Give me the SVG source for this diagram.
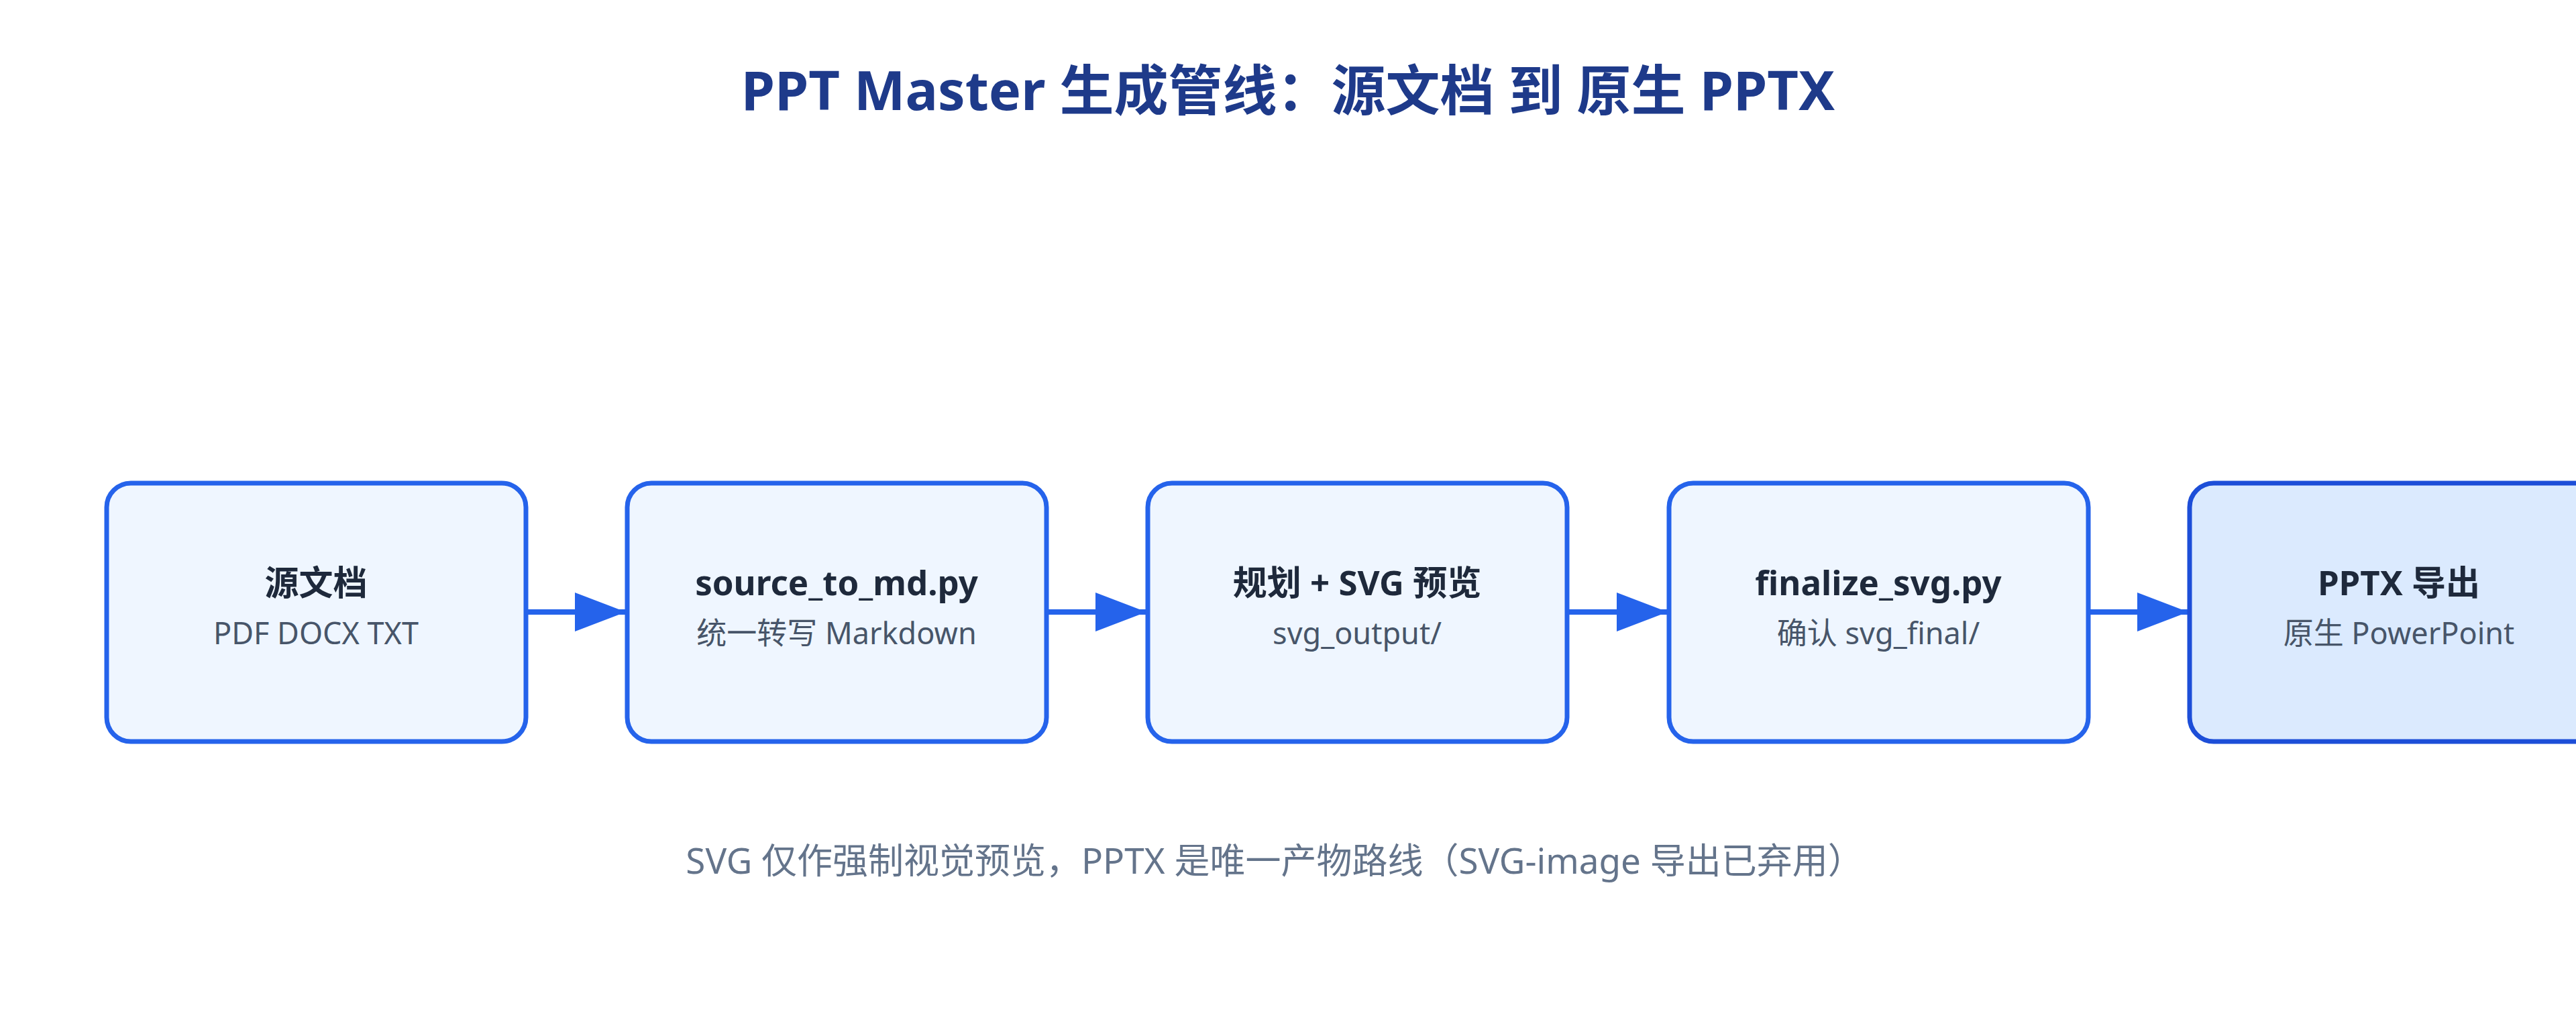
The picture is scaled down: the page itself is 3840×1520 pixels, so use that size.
<svg xmlns="http://www.w3.org/2000/svg" width="3840" height="1520" viewBox="0 0 3840 1520">
<defs>
<style>
.box{fill:#eff6ff;stroke:#2563eb;stroke-width:7}
.last{fill:#dbeafe;stroke:#1d4ed8;stroke-width:7}
.t{font-family:"Noto Sans","Noto Sans CJK SC",sans-serif;font-weight:700;font-size:51px;fill:#1e293b;text-anchor:middle}
.s{font-family:"Noto Sans","Noto Sans CJK SC",sans-serif;font-size:45px;fill:#475569;text-anchor:middle}
</style>
</defs>
<rect width="3840" height="1520" fill="#ffffff"/>
<text x="1920" y="164" font-family="Noto Sans,Noto Sans CJK SC,sans-serif" font-weight="700" font-size="81" fill="#1e3a8a" text-anchor="middle">PPT Master 生成管线：源文档 到 原生 PPTX</text>
<g id="connectors">
<path d="M784,912 L933,912" stroke="#2563eb" stroke-width="8"/>
<path d="M1560,912 L1709,912" stroke="#2563eb" stroke-width="8"/>
<path d="M2336,912 L2486,912" stroke="#2563eb" stroke-width="8"/>
<path d="M3113,912 L3262,912" stroke="#2563eb" stroke-width="8"/>
<polygon points="857,883 933,912 857,941" fill="#2563eb"/>
<polygon points="1633,883 1709,912 1633,941" fill="#2563eb"/>
<polygon points="2410,883 2486,912 2410,941" fill="#2563eb"/>
<polygon points="3186,883 3262,912 3186,941" fill="#2563eb"/>
</g>
<g id="n1"><rect class="box" x="159" y="720" width="625" height="385" rx="36"/><text class="t" x="471" y="887">源文档</text><text class="s" x="471" y="960">PDF DOCX TXT</text></g>
<g id="n2"><rect class="box" x="935" y="720" width="625" height="385" rx="36"/><text class="t" x="1247" y="887">source_to_md.py</text><text class="s" x="1247" y="960">统一转写 Markdown</text></g>
<g id="n3"><rect class="box" x="1711" y="720" width="625" height="385" rx="36"/><text class="t" x="2023" y="887">规划 + SVG 预览</text><text class="s" x="2023" y="960">svg_output/</text></g>
<g id="n4"><rect class="box" x="2488" y="720" width="625" height="385" rx="36"/><text class="t" x="2800" y="887">finalize_svg.py</text><text class="s" x="2800" y="960">确认 svg_final/</text></g>
<g id="n5"><rect class="last" x="3264" y="720" width="625" height="385" rx="36"/><text class="t" x="3576" y="887">PPTX 导出</text><text class="s" x="3576" y="960">原生 PowerPoint</text></g>
<text x="1900" y="1302" font-family="Noto Sans,Noto Sans CJK SC,sans-serif" font-size="53" fill="#64748b" text-anchor="middle">SVG 仅作强制视觉预览，PPTX 是唯一产物路线（SVG-image 导出已弃用）</text>
</svg>
